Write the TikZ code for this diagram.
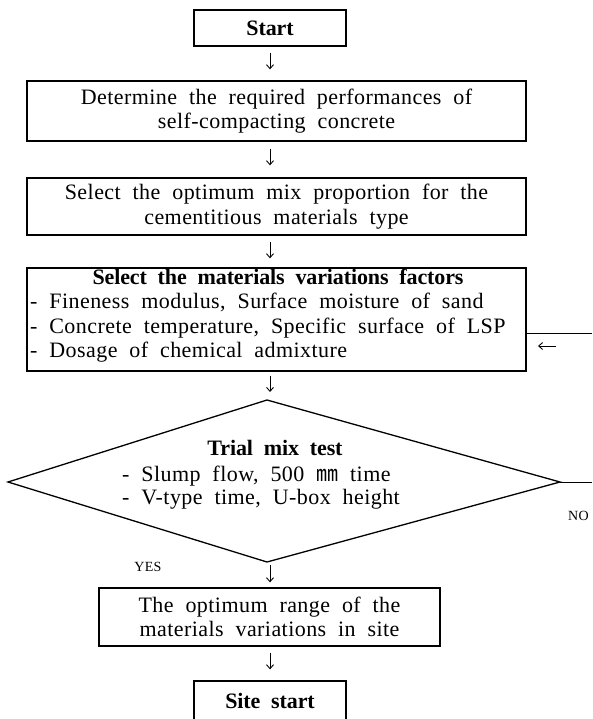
\documentclass[tikz,border=0pt]{standalone}
\usepackage{fontspec}
\setmainfont{Liberation Serif}[LetterSpace=2,WordSpace=2,BoldFeatures={LetterSpace=-0.5}]
\newfontfamily\cjk{Noto Sans CJK KR}
\usetikzlibrary{arrows.meta}
\newcommand\fs{\fontsize{22}{24.5}\selectfont}
\begin{document}
\begin{tikzpicture}[x=1pt,y=-1pt,
  box/.style={draw, line width=1.3pt, inner sep=0pt, align=center, font=\fs},
  txt/.style={inner sep=0pt, font=\fs, text height=0.7em, text depth=0.2em},
  small/.style={inner sep=0pt, font=\fontsize{14}{16}\selectfont},
  arr/.style={-{Straight Barb[length=4pt,width=7pt]}, line width=0.9pt},
  thin/.style={line width=0.8pt}]
\useasboundingbox (0,0) rectangle (592,719);
\node[box, minimum width=152pt, minimum height=36pt, font=\fs\bfseries] (start) at (270,28) {Start};
\node[box, minimum width=499pt, minimum height=60pt] (det) at (276.5,111) {Determine the required performances of\\self-compacting concrete};
\node[box, minimum width=499pt, minimum height=57pt] (sel) at (276.5,206.5) {Select the optimum mix proportion for the\\cementitious materials type};
\node[box, minimum width=499pt, minimum height=103pt] (var) at (276.5,319.5) {};
\node[txt, font=\fs\bfseries] (vt) at (278,282) {Select the materials variations factors};
\node[txt, anchor=west] (v1) at (30,306) {- Fineness modulus, Surface moisture of sand};
\node[txt, anchor=west] (v2) at (30,331) {- Concrete temperature, Specific surface of LSP};
\node[txt, anchor=west] (v3) at (30,355) {- Dosage of chemical admixture};
\coordinate (dt) at (267,400);
\coordinate (dr) at (560,482);
\coordinate (db) at (267,562);
\coordinate (dl) at (8,482);
\draw[line width=1.3pt] (dt) -- (dr) -- (db) -- (dl) -- cycle;
\node[txt, font=\fs\bfseries] (tt) at (275,453) {Trial mix test};
\node[txt, anchor=west] (t1) at (122,479) {- Slump flow, 500 {\cjk ㎜} time};
\node[txt, anchor=west] (t2) at (122,502) {- V-type time, U-box height};
\node[box, minimum width=341pt, minimum height=58pt] (opt) at (269.5,617) {The optimum range of the\\materials variations in site};
\node[box, minimum width=152pt, minimum height=40pt, font=\fs\bfseries] (site) at (270,701) {Site start};
\node[small] (yes) at (148,567) {YES};
\node[small, anchor=west] (no) at (568,516) {NO};
\coordinate (r1) at (592,333);
\coordinate (r2) at (592,482);
\coordinate (la1) at (556,346);
\coordinate (la2) at (538,346);
\draw[thin] (r1 -| var.east) -- (r1);
\draw[thin] (dr) -- (r2);
\draw[arr] (la1) -- (la2);
\draw[arr, shorten <=6pt, shorten >=11pt] (start.south) -- (start.south |- det.north);
\draw[arr, shorten <=7pt, shorten >=12pt] (start.south |- det.south) -- (start.south |- sel.north);
\draw[arr, shorten <=6pt, shorten >=9pt] (start.south |- sel.south) -- (start.south |- var.north);
\draw[arr, shorten <=4pt, shorten >=8pt] (start.south |- var.south) -- (start.south |- dt);
\draw[arr, shorten <=3pt, shorten >=5pt] (start.south |- db) -- (start.south |- opt.north);
\draw[arr, shorten <=6pt, shorten >=11pt] (start.south |- opt.south) -- (start.south |- site.north);
\end{tikzpicture}
\end{document}
